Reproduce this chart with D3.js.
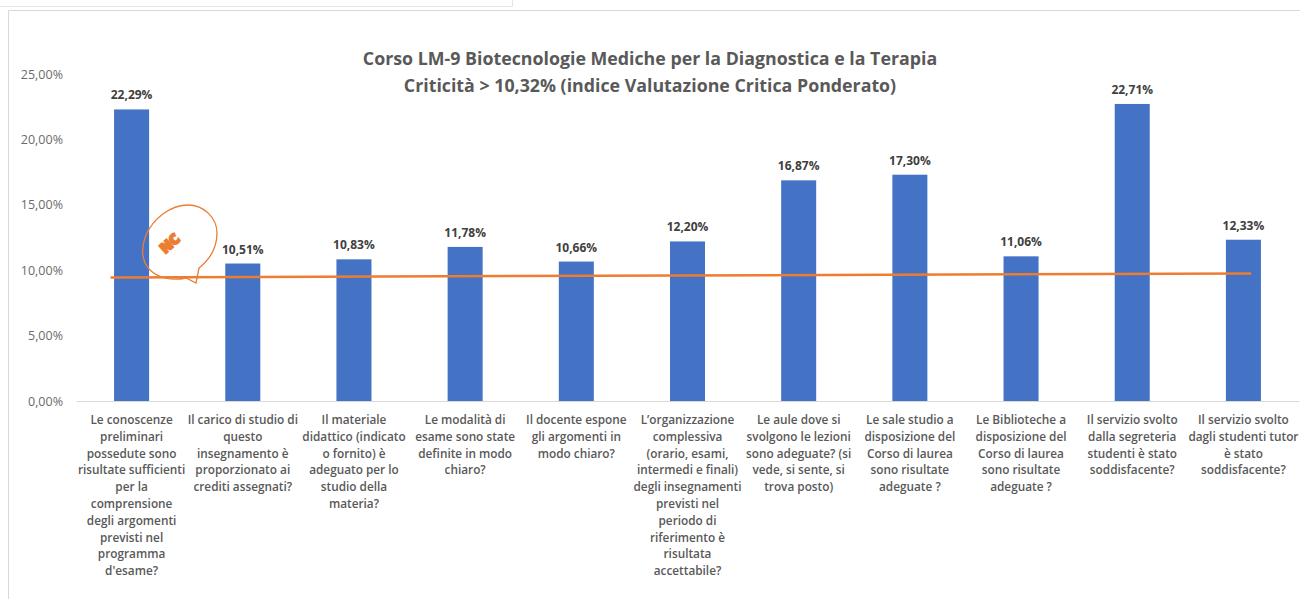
<!DOCTYPE html>
<html>
<head>
<meta charset="utf-8">
<script src="https://cdn.jsdelivr.net/npm/d3@7"></script>
<style>
body { margin: 0; background: #fff; overflow: hidden; }
text { font-family: "Open Sans", sans-serif; }
</style>
</head>
<body>
<div id="chart"></div>
<script>
// chart data
var categories = [
  ["Le conoscenze", "preliminari", "possedute sono", "risultate sufficienti", "per la", "comprensione", "degli argomenti", "previsti nel", "programma", "d'esame?"],
  ["Il carico di studio di", "questo", "insegnamento è", "proporzionato ai", "crediti assegnati?"],
  ["Il materiale", "didattico (indicato", "o fornito) è", "adeguato per lo", "studio della", "materia?"],
  ["Le modalità di", "esame sono state", "definite in modo", "chiaro?"],
  ["Il docente espone", "gli argomenti in", "modo chiaro?"],
  ["L’organizzazione", "complessiva", "(orario, esami,", "intermedi e finali)", "degli insegnamenti", "previsti nel", "periodo di", "riferimento è", "risultata", "accettabile?"],
  ["Le aule dove si", "svolgono le lezioni", "sono adeguate? (si", "vede, si sente, si", "trova posto)"],
  ["Le sale studio a", "disposizione del", "Corso di laurea", "sono risultate", "adeguate ?"],
  ["Le Biblioteche a", "disposizione del", "Corso di laurea", "sono risultate", "adeguate ?"],
  ["Il servizio svolto", "dalla segreteria", "studenti è stato", "soddisfacente?"],
  ["Il servizio svolto", "dagli studenti tutor", "è stato", "soddisfacente?"]
];
var values = [22.29, 10.51, 10.83, 11.78, 10.66, 12.20, 16.87, 17.30, 11.06, 22.71, 12.33];
var yTicks = [0, 5, 10, 15, 20, 25];
// the trend line only has its two ends visible
var trendIndex = [-0.19, 10.07];
var trendValues = [9.44, 9.75];
var titleLines = [
  "Corso LM-9 Biotecnologie Mediche per la Diagnostica e la Terapia",
  "Criticità > 10,32% (indice Valutazione Critica Ponderato)"
];

var margin = {top: 74, right: 1, bottom: 198, left: 76},
    width = 1300 - margin.left - margin.right,
    height = 599 - margin.top - margin.bottom;

function pct(v) { return v.toFixed(2).replace(".", ",") + "%"; }

var svg = d3.select("#chart").append("svg")
    .attr("width", 1300)
    .attr("height", 599);

// bits of the spreadsheet window around the chart
svg.append("path")
    .attr("d", "M0,6.5H512.5V0")
    .attr("fill", "none")
    .attr("stroke", "#e3e3e3");
svg.append("path")
    .attr("d", "M8.5,599V10.5H1300")
    .attr("fill", "none")
    .attr("stroke", "#d9d9d9");

var g = svg.append("g")
    .attr("transform", "translate(" + margin.left + "," + margin.top + ")");

var x = d3.scaleBand()
    .domain(d3.range(categories.length))
    .range([0, width])
    .paddingInner(0.685)
    .paddingOuter(0.3425);

var y = d3.scaleLinear()
    .domain([0, 25])
    .range([height, 0]);

// continuous version of the category axis, for the trend line
var xIndex = d3.scaleLinear()
    .domain([0, categories.length - 1])
    .range([x(0) + x.bandwidth() / 2, x(categories.length - 1) + x.bandwidth() / 2]);

// y axis
var yAxis = g.append("g")
    .call(d3.axisLeft(y).tickValues(yTicks).tickFormat(pct).tickSize(0).tickPadding(13));
yAxis.select(".domain").remove();
yAxis.selectAll("text")
    .style("font-family", '"Open Sans", sans-serif')
    .style("font-size", "12.5px")
    .attr("fill", "#6b6b6b");

// x axis, labels are added by hand because they wrap
var xAxis = g.append("g")
    .attr("transform", "translate(0," + height + ")")
    .call(d3.axisBottom(x).tickSize(0).tickFormat(""));
xAxis.select(".domain").attr("stroke", "#d9d9d9");

g.selectAll(".bar")
    .data(values)
    .enter().append("rect")
    .attr("class", "bar")
    .attr("x", function(d, i) { return x(i); })
    .attr("width", x.bandwidth())
    .attr("y", function(d) { return y(d); })
    .attr("height", function(d) { return height - y(d); })
    .attr("fill", "#4472c4");

g.selectAll(".value")
    .data(values)
    .enter().append("text")
    .attr("class", "value")
    .attr("x", function(d, i) { return x(i) + x.bandwidth() / 2; })
    .attr("y", function(d) { return y(d) - 10; })
    .attr("text-anchor", "middle")
    .style("font-size", "12px")
    .style("font-weight", 700)
    .attr("fill", "#404040")
    .text(pct);

var catLabels = g.selectAll(".cat")
    .data(categories)
    .enter().append("text")
    .attr("class", "cat")
    .attr("text-anchor", "middle")
    .style("font-size", "11.8px")
    .style("font-weight", 600)
    .attr("fill", "#595959")
    .attr("transform", function(d, i) {
      return "translate(" + (x(i) + x.bandwidth() / 2) + "," + (height + 23) + ")";
    });
catLabels.selectAll("tspan")
    .data(function(d) { return d; })
    .enter().append("tspan")
    .attr("x", 0)
    .attr("y", function(d, i) { return i * 16.8; })
    .text(function(d) { return d; });

// trend line
var line = d3.line()
    .x(function(d) { return xIndex(d); })
    .y(function(d, i) { return y(trendValues[i]); });
g.append("path")
    .datum(trendIndex)
    .attr("d", line)
    .attr("fill", "none")
    .attr("stroke", "#ed7d31")
    .attr("stroke-width", 2.5);

// title
svg.append("g").selectAll("text")
    .data(titleLines)
    .enter().append("text")
    .attr("x", 650)
    .attr("y", function(d, i) { return 65 + i * 27; })
    .attr("text-anchor", "middle")
    .style("font-size", "17.8px")
    .style("font-weight", 700)
    .attr("fill", "#595959")
    .text(function(d) { return d; });

// speech bubble watermark
var bubble = svg.append("g");
bubble.append("path")
    .attr("d", "M199,268 L196,283 L186,278 C172,281 158,278 150,270 C141,261 141,247 146,235 C153,219 170,205 188,205 C204,205 217,218 217,233 C217,248 209,260 199,268 Z")
    .attr("fill", "none")
    .attr("stroke", "#ed7d31")
    .attr("stroke-width", 1.3);
bubble.append("text")
    .attr("transform", "translate(173,247) rotate(-42)")
    .attr("text-anchor", "middle")
    .style("font-size", "14px")
    .style("font-weight", 800)
    .attr("fill", "#ed7d31")
    .attr("stroke", "#ed7d31")
    .attr("stroke-width", 2)
    .text("NC");
</script>
</body>
</html>
